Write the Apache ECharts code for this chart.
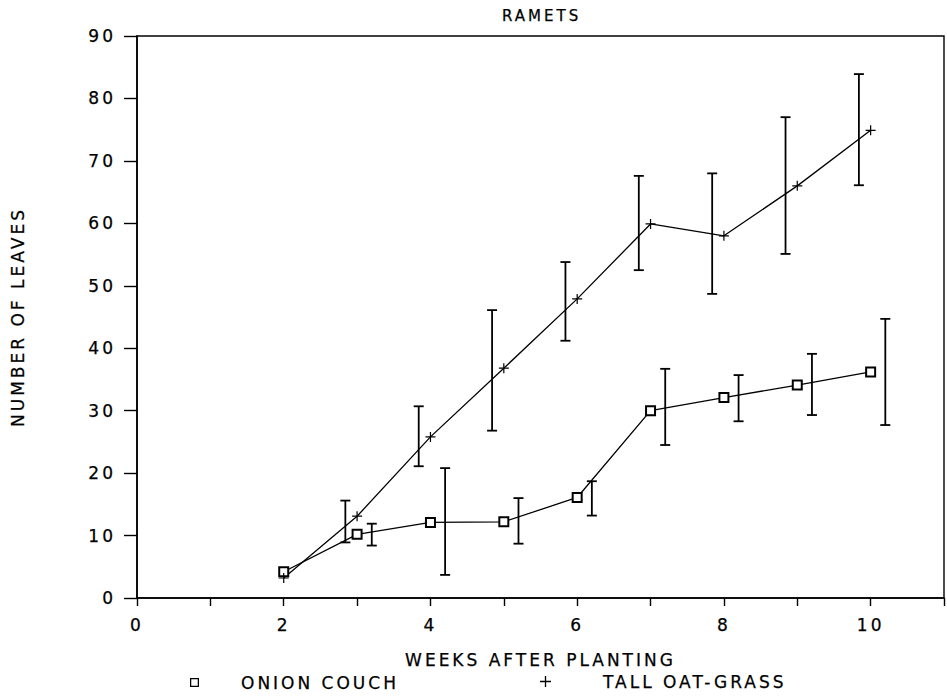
<!DOCTYPE html>
<html>
<head>
<meta charset="utf-8">
<script src="https://cdn.jsdelivr.net/npm/echarts@6/dist/echarts.min.js"></script>
<style>
  html, body { margin: 0; padding: 0; background: #fff; }
  #chart { width: 947px; height: 697px; }
  /* plotter-style lettering: wide tracking and a slightly heavier pen on every label */
  #chart svg text { letter-spacing: 3px; stroke: #000; stroke-width: 0.25px; }
</style>
</head>
<body>
<div id="chart"></div>
<script>
// Weeks after planting
const weeks = [2, 3, 4, 5, 6, 7, 8, 9, 10];

// Onion couch: mean number of leaves and error-bar limits
const onionMean = [4.2, 10.2, 12.1, 12.2, 16.1, 30.0, 32.1, 34.1, 36.2];
const onionLow  = [null, 8.4, 3.7, 8.7, 13.2, 24.5, 28.3, 29.3, 27.7];
const onionHigh = [null, 11.9, 20.8, 16.0, 18.7, 36.7, 35.7, 39.1, 44.7];

// Tall oat-grass: mean number of leaves and error-bar limits
const oatMean = [3.2, 13.1, 25.8, 36.8, 47.9, 59.9, 58.0, 66.0, 74.9];
const oatLow  = [null, 8.9, 21.1, 26.8, 41.2, 52.5, 48.7, 55.1, 66.1];
const oatHigh = [null, 15.6, 30.7, 46.1, 53.8, 67.6, 68.0, 77.0, 83.9];

// Axis tick labels
const xTickLabels = ['0', '', '2', '', '4', '', '6', '', '8', '', '10', ''];

const seriesNames = ['ONION COUCH', 'TALL OAT-GRASS'];

const FONT = '"DejaVu Sans", sans-serif';
const FS = 17;
const PLUS = 'path://M4.4,0H5.6V10H4.4Z M0,4.4H10V5.6H0Z';
const SQUARE = 'path://M0,0H10V10H0Z M1.4,1.4V8.6H8.6V1.4Z';

function pairs(xs, ys) { return xs.map((x, i) => [x, ys[i]]); }
function bars(xs, lo, hi) {
  return xs.map((x, i) => [x, lo[i], hi[i]]).filter(d => d[1] != null);
}

// vertical error bar with caps, nudged sideways so the two series don't overlap
function errorBar(shift) {
  return function (params, api) {
    const x = api.value(0) + shift;
    const lo = api.coord([x, api.value(1)]);
    const hi = api.coord([x, api.value(2)]);
    const cap = 5;
    const style = { stroke: '#000', lineWidth: 1.8, fill: null };
    return {
      type: 'group',
      children: [
        { type: 'line', shape: { x1: lo[0], y1: lo[1], x2: hi[0], y2: hi[1] }, style },
        { type: 'line', shape: { x1: lo[0] - cap, y1: lo[1], x2: lo[0] + cap, y2: lo[1] }, style },
        { type: 'line', shape: { x1: hi[0] - cap, y1: hi[1], x2: hi[0] + cap, y2: hi[1] }, style }
      ]
    };
  };
}

const chart = echarts.init(document.getElementById('chart'), null, { renderer: 'svg' });

chart.setOption({
  backgroundColor: '#fff',
  animation: false,
  textStyle: { fontFamily: FONT, color: '#000' },
  title: {
    text: 'RAMETS',
    left: 497,
    top: 3,
    textStyle: { fontFamily: FONT, fontSize: 15, fontWeight: 'normal', color: '#000' }
  },
  legend: [
    {
      data: [{ name: seriesNames[0], icon: SQUARE }],
      left: 185, top: 669,
      itemWidth: 9, itemHeight: 9,
      itemStyle: { color: '#000', borderWidth: 0 },
      textStyle: { fontFamily: FONT, fontSize: FS, color: '#000', padding: [0, 0, 0, 37] },
      selectedMode: false
    },
    {
      data: [{ name: seriesNames[1], icon: PLUS }],
      left: 535, top: 668,
      itemWidth: 11, itemHeight: 11,
      itemStyle: { color: '#000', borderWidth: 0 },
      textStyle: { fontFamily: FONT, fontSize: FS, color: '#000', padding: [0, 0, 0, 47] },
      selectedMode: false
    }
  ],
  grid: {
    left: 137, right: -6, top: 36, bottom: 99,
    show: true, borderColor: '#000', borderWidth: 1.4, backgroundColor: 'transparent'
  },
  xAxis: {
    type: 'value',
    min: 0, max: 11, interval: 1,
    name: 'WEEKS AFTER PLANTING',
    nameLocation: 'middle',
    nameGap: 53,
    nameTextStyle: { fontFamily: FONT, fontSize: FS, color: '#000' },
    axisLine: { lineStyle: { color: '#000', width: 1.6 } },
    axisTick: { inside: false, length: 8, lineStyle: { color: '#000', width: 1.4 } },
    axisLabel: {
      margin: 18, fontFamily: FONT, fontSize: FS, color: '#000',
      formatter: v => xTickLabels[Math.round(v)] || '',
      showMaxLabel: true
    },
    splitLine: { show: false }
  },
  yAxis: {
    type: 'value',
    min: 0, max: 90, interval: 10,
    name: 'NUMBER OF LEAVES',
    nameLocation: 'middle',
    nameGap: 111,
    nameRotate: 90,
    nameTextStyle: { fontFamily: FONT, fontSize: FS, color: '#000' },
    axisLine: { lineStyle: { color: '#000', width: 1.6 } },
    axisTick: { inside: false, length: 13, lineStyle: { color: '#000', width: 1.4 } },
    axisLabel: { margin: 21, fontFamily: FONT, fontSize: FS, color: '#000' },
    splitLine: { show: false }
  },
  series: [
    {
      name: seriesNames[0],
      type: 'line',
      data: pairs(weeks, onionMean),
      symbol: 'emptyRect',
      symbolSize: 9,
      showAllSymbol: true,
      itemStyle: { color: '#000', borderWidth: 1.2 },
      lineStyle: { color: '#000', width: 1.3 },
      z: 3
    },
    {
      name: seriesNames[1],
      type: 'line',
      data: pairs(weeks, oatMean),
      symbol: PLUS,
      symbolSize: 10,
      showAllSymbol: true,
      itemStyle: { color: '#000' },
      lineStyle: { color: '#000', width: 1.3 },
      z: 3
    },
    {
      name: seriesNames[0] + ' error',
      type: 'custom',
      renderItem: errorBar(0.2),
      data: bars(weeks, onionLow, onionHigh),
      encode: { x: 0, y: [1, 2] },
      silent: true,
      z: 2
    },
    {
      name: seriesNames[1] + ' error',
      type: 'custom',
      renderItem: errorBar(-0.16),
      data: bars(weeks, oatLow, oatHigh),
      encode: { x: 0, y: [1, 2] },
      silent: true,
      z: 2
    }
  ]
});
</script>
</body>
</html>
